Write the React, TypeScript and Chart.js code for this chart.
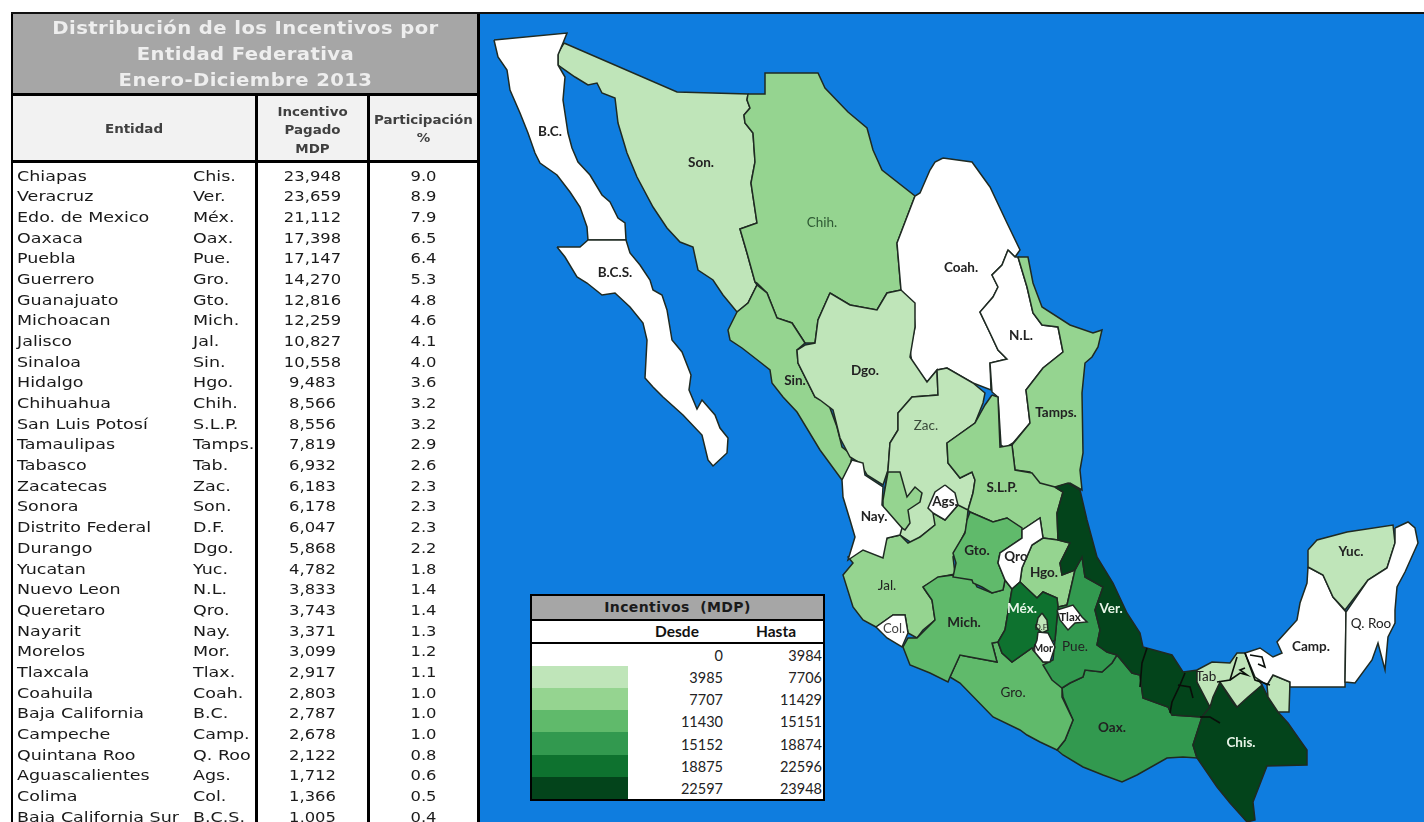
import React, { useEffect, useRef } from "react";
import { Chart, registerables } from "chart.js";

Chart.register(...registerables);

const entidades = ["Chiapas","Veracruz","Edo. de Mexico","Oaxaca","Puebla","Guerrero","Guanajuato","Michoacan","Jalisco","Sinaloa","Hidalgo","Chihuahua","San Luis Potosí","Tamaulipas","Tabasco","Zacatecas","Sonora","Distrito Federal","Durango","Yucatan","Nuevo Leon","Queretaro","Nayarit","Morelos","Tlaxcala","Coahuila","Baja California","Campeche","Quintana Roo","Aguascalientes","Colima","Baja California Sur"];
const abreviaturas = ["Chis.","Ver.","Méx.","Oax.","Pue.","Gro.","Gto.","Mich.","Jal.","Sin.","Hgo.","Chih.","S.L.P.","Tamps.","Tab.","Zac.","Son.","D.F.","Dgo.","Yuc.","N.L.","Qro.","Nay.","Mor.","Tlax.","Coah.","B.C.","Camp.","Q. Roo","Ags.","Col.","B.C.S."];
const incentivos = [23948,23659,21112,17398,17147,14270,12816,12259,10827,10558,9483,8566,8556,7819,6932,6183,6178,6047,5868,4782,3833,3743,3371,3099,2917,2803,2787,2678,2122,1712,1366,1005];
const participacion = ["9.0","8.9","7.9","6.5","6.4","5.3","4.8","4.6","4.1","4.0","3.6","3.2","3.2","2.9","2.6","2.3","2.3","2.3","2.2","1.8","1.4","1.4","1.3","1.2","1.1","1.0","1.0","1.0","0.8","0.6","0.5","0.4"];
const desde = [0,3985,7707,11430,15152,18875,22597];
const hasta = [3984,7706,11429,15151,18874,22596,23948];
const tonos = ["#FFFFFF","#BFE5B9","#95D490","#60BA6B","#32994F","#0E722F","#03441B"];

const Son = [564,43,677,92,748,94,747,100,750,108,744,115,745,123,753,133,755,162,751,183,757,223,740,229,747,253,755,282,757,285,748,303,737,312,723,295,713,280,698,270,693,247,680,242,667,228,653,207,637,177,627,153,618,123,615,98,602,93,597,83,588,85,575,77,558,65,558,53];
const Chih = [748,94,765,94,765,73,818,73,825,88,848,112,867,128,873,150,882,170,915,196,897,243,901,290,887,293,877,310,850,305,830,293,818,320,815,343,805,343,792,323,777,318,767,293,757,283,755,282,747,253,740,229,757,223,751,183,755,162,753,133,745,123,744,115,750,108,747,100];
const BC = [494,40,567,33,563,43,558,55,558,65,565,77,563,100,568,133,572,148,578,162,590,175,602,195,610,202,618,218,625,223,626,240,588,240,587,227,580,207,570,192,557,175,540,163,535,153,528,133,520,113,510,90,507,70,498,57];
const BCS = [557,247,580,247,588,240,626,240,630,253,640,265,650,280,653,290,662,295,667,310,672,340,682,352,691,375,689,390,697,409,702,400,715,415,720,428,728,438,727,453,713,466,708,460,702,435,683,415,663,397,653,387,645,378,647,340,643,323,630,307,615,293,602,295,587,283,577,277,565,257];
const Sin = [737,312,748,303,757,285,767,293,777,318,792,323,805,343,797,350,798,363,815,397,827,400,837,427,842,447,852,455,848,480,842,480,820,450,797,412,783,397,772,383,770,370,760,362,742,348,730,340,728,330];
const Coah = [943,158,972,162,990,187,1007,223,1020,250,1015,257,1008,250,1002,265,992,275,998,287,993,297,980,312,990,333,998,350,1007,359,990,363,991,390,973,383,947,368,937,370,927,382,912,363,910,350,915,327,913,303,900,293,901,290,897,243,915,196,920,193,930,170,935,162];
const NL = [1008,250,1015,257,1018,257,1027,287,1033,313,1042,325,1058,327,1063,352,1043,368,1026,390,1030,423,1013,443,1005,448,1001,445,998,397,992,392,990,363,1007,359,998,350,990,333,980,312,993,297,998,287,992,275,1002,265];
const Tamps = [1018,257,1028,257,1033,283,1042,307,1070,325,1093,333,1102,330,1098,347,1092,357,1085,363,1082,393,1083,453,1080,470,1082,490,1070,483,1053,488,1037,485,1030,472,1015,470,1012,445,1030,423,1026,390,1043,368,1063,352,1058,327,1042,325,1033,313,1027,287];
const Dgo = [830,293,850,305,877,310,887,293,901,290,915,303,915,327,910,357,927,382,937,370,938,395,912,397,898,413,898,430,890,443,888,470,883,485,867,475,860,463,850,457,840,438,833,410,820,400,815,397,798,363,797,350,805,345,815,343,818,320];
const Zac = [937,370,947,368,973,383,985,393,983,403,975,423,947,443,948,463,960,478,972,472,975,480,973,493,968,510,966,530,935,525,920,537,915,545,900,535,895,515,885,488,888,470,890,443,898,430,898,413,912,397,938,395];
const SLP = [992,395,985,405,975,423,947,443,948,463,960,478,972,472,975,480,973,493,968,510,970,512,993,522,1007,518,1022,530,1040,518,1043,538,1058,540,1057,513,1063,492,1055,487,1040,483,1032,473,1015,470,1012,445,1000,447,998,397];
const Oax = [1062,688,1070,683,1083,677,1085,670,1102,672,1112,663,1117,655,1132,673,1140,675,1143,698,1168,707,1172,715,1202,717,1193,745,1197,758,1183,757,1167,758,1137,775,1122,782,1103,775,1083,767,1063,755,1057,750,1065,740,1073,720,1063,697];
const Gro = [950,677,960,655,970,657,997,662,992,643,998,642,1002,653,1012,662,1032,648,1043,662,1050,662,1062,683,1062,697,1073,720,1065,740,1057,750,1040,742,1027,735,1020,730,993,717,960,683];
const Jal = [958,505,968,510,966,530,953,557,955,574,940,577,923,587,927,593,932,600,935,620,923,630,917,638,908,633,905,615,893,615,876,627,863,620,853,607,843,575,853,563,848,557,863,550,882,553,887,538,900,535,908,543,920,537,935,525,933,513,945,520];
const JalN = [883,500,888,472,900,472,907,497,915,487,922,493,920,502,908,510,910,523,905,530,900,527,883,507];
const Nay = [852,460,863,463,865,475,883,487,882,505,902,528,900,535,887,538,883,558,863,550,848,560,855,537,850,520,843,497,842,480];
const Ags = [945,485,955,493,958,505,945,520,933,513,928,508,935,492];
const Col = [876,627,893,615,905,615,908,633,902,647,887,638];
const Mich = [923,587,938,577,953,575,962,578,972,577,977,587,992,593,1003,590,1005,580,1012,589,1005,630,998,642,992,643,997,662,970,657,960,655,950,677,948,682,930,673,910,665,903,647,908,638,917,638,935,620,932,600];
const Gto = [970,512,993,522,1007,518,1022,528,1022,538,1000,553,998,563,1005,580,1003,590,992,593,982,587,973,583,972,580,953,577,956,563,953,553,965,533,967,520];
const Hgo = [1043,538,1058,540,1070,543,1060,563,1062,575,1075,570,1067,605,1058,607,1057,598,1043,592,1037,598,1020,582,1022,568,1032,545];
const Qro = [1022,530,1040,518,1043,538,1032,545,1022,568,1020,582,1012,589,1005,580,998,563,1000,553,1022,538];
const Pue = [1082,557,1085,577,1103,587,1095,610,1100,630,1097,645,1107,652,1117,655,1112,663,1102,672,1085,670,1083,677,1070,683,1062,688,1052,680,1043,665,1053,660,1055,640,1058,607,1067,605,1075,570];
const Ver = [1055,487,1068,483,1080,490,1087,520,1097,557,1113,583,1127,613,1140,633,1143,647,1172,655,1183,672,1197,670,1197,682,1210,707,1202,717,1172,715,1168,707,1143,698,1140,675,1132,673,1117,655,1107,652,1097,645,1100,630,1095,610,1103,587,1085,577,1082,557,1075,570,1062,575,1060,563,1070,543,1058,540,1057,513,1063,492];
const Mex = [1012,589,1020,582,1037,598,1043,592,1057,598,1058,607,1055,640,1040,650,1035,650,1032,648,1012,662,1002,653,998,642,1005,630];
const DF = [1042,613,1047,620,1048,630,1042,633,1036,627,1038,618];
const Mor = [1038,632,1048,633,1055,647,1050,662,1043,662,1033,650,1037,640];
const Tlax = [1057,610,1073,605,1082,617,1087,622,1075,623,1068,630,1060,620];
const Chis = [1220,682,1233,703,1237,707,1248,697,1262,685,1268,697,1278,712,1288,723,1302,743,1307,750,1307,765,1267,766,1253,802,1255,820,1247,822,1230,803,1217,787,1197,758,1193,745,1202,717,1210,707,1213,697];
const Tab = [1197,670,1212,662,1230,663,1237,653,1245,653,1252,670,1262,685,1248,697,1237,707,1220,682,1213,697,1210,707,1197,682];
const TabE = [1267,685,1273,675,1290,682,1289,712,1278,712,1268,697];
const Camp = [1308,567,1323,575,1333,597,1346,612,1345,687,1290,687,1290,682,1273,675,1267,685,1255,677,1245,653,1260,648,1273,657,1282,653,1277,642,1297,620,1300,603,1307,583];
const Yuc = [1308,550,1317,540,1347,532,1393,525,1395,543,1387,568,1368,580,1345,610,1333,597,1323,575,1308,567];
const QRoo = [1395,528,1408,522,1415,528,1418,543,1405,572,1397,587,1395,610,1395,623,1388,637,1385,670,1378,643,1372,660,1355,683,1345,682,1346,612,1368,580,1387,568,1395,543];

const rioA = [1170,713,1172,702,1180,685,1185,673];
const rioB = [1178,685,1190,687,1193,698];
const rioC = [1140,687,1142,663,1147,648];
const rioD = [1200,717,1210,717,1220,723];
const rioE = [1217,682,1230,680,1237,657];
const rioF = [1230,680,1240,673,1247,675,1240,670,1245,668];
const rioG = [1245,653,1255,680,1270,685];
const rioH = [1250,655,1262,657,1265,667,1258,664];
const rios = [rioA, rioB, rioC, rioD, rioE, rioF, rioG, rioH];

const estados: [string, number[]][] = [
  ["Son.",Son],["Chih.",Chih],["B.C.",BC],["B.C.S.",BCS],["Sin.",Sin],["Coah.",Coah],["N.L.",NL],["Tamps.",Tamps],["Dgo.",Dgo],["Zac.",Zac],["S.L.P.",SLP],["Oax.",Oax],["Gro.",Gro],["Jal.",Jal],["Jal.",JalN],["Nay.",Nay],["Ags.",Ags],["Col.",Col],["Mich.",Mich],["Gto.",Gto],["Hgo.",Hgo],["Qro.",Qro],["Pue.",Pue],["Ver.",Ver],["Méx.",Mex],["D.F.",DF],["Mor.",Mor],["Tlax.",Tlax],["Chis.",Chis],["Tab.",Tab],["Tab.",TabE],["Camp.",Camp],["Yuc.",Yuc],["Q. Roo",QRoo],
];

const etiquetas: [string, number, number, string, number, number][] = [
  ["B.C.",550,132,"#222",13.5,700],["B.C.S.",615,273,"#222",13.5,700],["Son.",701,163,"#222",13.5,700],["Chih.",822,223,"#2f5a34",13.5,400],["Coah.",961,268,"#222",13.5,700],["N.L.",1021,336,"#222",13.5,700],["Dgo.",865,371,"#222",13.5,700],["Zac.",926,426,"#3a4a3a",13.5,400],["Sin.",795,381,"#222",13.5,700],["Tamps.",1056,413,"#222",13.5,700],["S.L.P.",1002,488,"#222",13.5,700],["Nay.",874,517,"#222",13.5,700],["Ags.",945,502,"#222",13.5,700],["Jal.",887,586,"#222",13.5,400],["Gto.",977,551,"#222",13.5,700],["Qro",1016,557,"#222",13.5,700],["Hgo.",1044,573,"#222",13.5,700],["Mich.",964,623,"#222",13.5,700],["Col.",894,629,"#444",13,400],["Méx.",1022,609,"#E8F5E8",13.5,700],["D.F",1041,627,"#222",8,400],["Tlax",1070,617,"#222",11.5,700],["Mor",1043,649,"#222",10.5,700],["Pue.",1075,647,"#222",13.5,400],["Ver.",1111,609,"#E8F5E8",13.5,700],["Gro.",1013,693,"#222",13.5,400],["Oax.",1112,728,"#222",13.5,700],["Chis.",1241,743,"#E8F5E8",13.5,700],["Tab",1206,677,"#222",13.5,400],["Camp.",1311,647,"#222",13.5,700],["Yuc.",1351,552,"#222",13.5,700],["Q. Roo",1371,624,"#222",13.5,400],
];

function tono(abrev: string) {
  const v = incentivos[abreviaturas.indexOf(abrev)];
  const i = desde.findIndex((d, k) => v >= d && v <= hasta[k]);
  return tonos[i];
}
function puntos(p: number[], cerrar: boolean) {
  const out: { x: number; y: number }[] = [];
  for (let i = 0; i < p.length; i += 2) out.push({ x: p[i], y: p[i + 1] });
  if (cerrar) out.push({ x: p[0], y: p[1] });
  return out;
}

const abs = (left: number, top: number, width: number, height: number, extra: React.CSSProperties = {}): React.CSSProperties => ({ position: "absolute", left, top, width, height, ...extra });
const TXT = "'DejaVu Sans', sans-serif";

export default function App() {
  const ref = useRef<HTMLCanvasElement>(null);
  useEffect(() => {
    document.body.style.margin = "0";
    document.body.style.background = "#fff";
    const rotulos = {
      id: "rotulos",
      afterDatasetsDraw(chart: any) {
        const { ctx, scales } = chart;
        ctx.save();
        ctx.textAlign = "center";
        ctx.textBaseline = "middle";
        for (const [t, x, y, c, s, w] of etiquetas) {
          ctx.font = `${w} ${s}px Lato`;
          ctx.fillStyle = c;
          ctx.fillText(t, scales.x.getPixelForValue(x), scales.y.getPixelForValue(y));
        }
        ctx.restore();
      },
    };
    const chart = new Chart(ref.current!, {
      type: "scatter",
      data: {
        datasets: [
          ...rios.map((r) => ({
            data: puntos(r, false),
            showLine: true,
            fill: false,
            borderColor: "#0a0f0a",
            borderWidth: 1.6,
            pointRadius: 0,
            tension: 0,
          })),
          ...[...estados].reverse().map(([a, p]) => ({
            label: a,
            data: puntos(p, true),
            showLine: true,
            fill: "shape",
            backgroundColor: tono(a),
            borderColor: "#1f2a22",
            borderWidth: 1.5,
            pointRadius: 0,
            tension: 0,
          })),
        ],
      } as any,
      options: {
        animation: false,
        responsive: false,
        layout: { padding: 0 },
        plugins: { legend: { display: false }, tooltip: { enabled: false }, title: { display: false } },
        scales: {
          x: { type: "linear", min: 480, max: 1424, display: false },
          y: { type: "linear", min: 14, max: 822, reverse: true, display: false },
        },
      } as any,
      plugins: [rotulos],
    });
    return () => chart.destroy();
  }, []);

  const cab = { color: "#404040", fontWeight: 700, fontSize: 12, lineHeight: "18px", textAlign: "center", transform: "scaleX(1.12)" } as React.CSSProperties;
  const leg = { fontFamily: "Lato", color: "#222", fontSize: 14.5, lineHeight: "20px", textAlign: "right" } as React.CSSProperties;

  return (
    <div style={{ position: "relative", width: 1424, height: 822, overflow: "hidden", background: "#fff", fontFamily: TXT }}>
      <canvas ref={ref} width={944} height={808} style={{ position: "absolute", left: 480, top: 14, width: 944, height: 808, background: "#0F7DDF" }} />
      <div style={abs(11, 12, 1413, 2, { background: "#111" })} />
      <div style={abs(13, 14, 465, 79, { background: "#A6A6A6" })} />
      {["Distribución de los Incentivos por", "Entidad Federativa", "Enero-Diciembre 2013"].map((t, i) => (
        <div key={t} style={abs(13, 15 + i * 26, 465, 26, { color: "#EEEEEE", fontWeight: 700, fontSize: 18, lineHeight: "26px", textAlign: "center", letterSpacing: 0.38, transform: "scaleX(1.09)" })}>{t}</div>
      ))}
      <div style={abs(13, 96, 465, 65, { background: "#F2F2F2" })} />
      <div style={abs(13, 120, 242, 18, cab)}>Entidad</div>
      {["Incentivo", "Pagado", "MDP"].map((t, i) => (
        <div key={t} style={abs(258, 103 + i * 18.3, 109, 18, cab)}>{t}</div>
      ))}
      {["Participación", "%"].map((t, i) => (
        <div key={t} style={abs(369, 111 + i * 18, 109, 18, cab)}>{t}</div>
      ))}
      <div style={abs(11, 93, 469, 3, { background: "#000" })} />
      <div style={abs(11, 160, 469, 3, { background: "#000" })} />
      <div style={abs(11, 14, 2, 808, { background: "#000" })} />
      <div style={abs(255, 96, 3, 726, { background: "#000" })} />
      <div style={abs(367, 96, 3, 726, { background: "#000" })} />
      <div style={abs(477, 14, 3, 808, { background: "#000" })} />
      {entidades.map((e, i) => {
        const top = 165.6 + i * 20.68;
        const st = { fontSize: 14, lineHeight: "20px", color: "#1a1a1a", whiteSpace: "nowrap" } as React.CSSProperties;
        const izq = { ...st, transform: "scaleX(1.25)", transformOrigin: "left center" } as React.CSSProperties;
        const cen = { ...st, textAlign: "center", transform: "scaleX(1.17)" } as React.CSSProperties;
        return (
          <React.Fragment key={e}>
            <div style={abs(17, top, 172, 20, izq)}>{e}</div>
            <div style={abs(193, top, 50, 20, izq)}>{abreviaturas[i]}</div>
            <div style={abs(258, top, 109, 20, cen)}>{incentivos[i].toLocaleString("en-US")}</div>
            <div style={abs(369, top, 109, 20, cen)}>{participacion[i]}</div>
          </React.Fragment>
        );
      })}
      <div style={abs(530, 594, 295, 207, { background: "#fff" })} />
      <div style={abs(531, 596, 293, 23, { background: "#A6A6A6", color: "#1a1a1a", fontWeight: 700, fontSize: 14, lineHeight: "23px", textAlign: "center", letterSpacing: 0.4 })}>Incentivos&nbsp; (MDP)</div>
      <div style={abs(530, 619, 295, 2, { background: "#000" })} />
      <div style={abs(530, 642, 295, 2, { background: "#000" })} />
      <div style={abs(530, 594, 295, 2, { background: "#000" })} />
      <div style={abs(530, 799, 295, 2, { background: "#000" })} />
      <div style={abs(530, 594, 2, 207, { background: "#000" })} />
      <div style={abs(823, 594, 2, 207, { background: "#000" })} />
      <div style={abs(635, 621, 84, 21, { ...leg, fontWeight: 700, fontSize: 15.5, lineHeight: "21px", textAlign: "center", color: "#111" })}>Desde</div>
      <div style={abs(734, 621, 84, 21, { ...leg, fontWeight: 700, fontSize: 15.5, lineHeight: "21px", textAlign: "center", color: "#111" })}>Hasta</div>
      {desde.map((d, i) => (
        <React.Fragment key={d}>
          <div style={abs(532, 643.5 + i * 22.2, 96, 22.3, { background: tonos[i] })} />
          <div style={abs(640, 646 + i * 22.15, 83, 20, leg)}>{d}</div>
          <div style={abs(735, 646 + i * 22.15, 87, 20, leg)}>{hasta[i]}</div>
        </React.Fragment>
      ))}
    </div>
  );
}
